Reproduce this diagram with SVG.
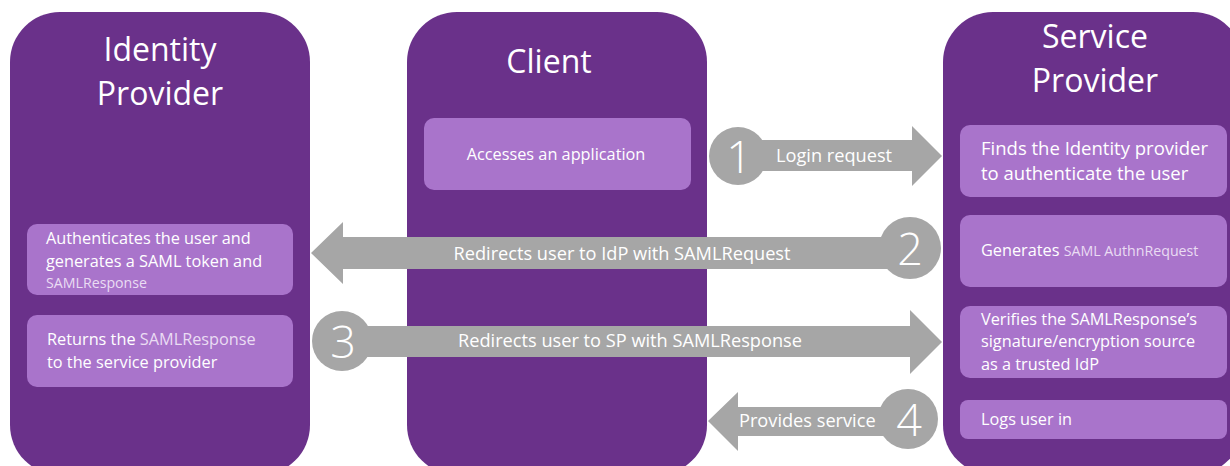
<svg xmlns="http://www.w3.org/2000/svg" width="1230" height="466" viewBox="0 0 1230 466">
  <style>
    .lane { fill: #6A318A; }
    .step { fill: #A974CB; }
    .flow { fill: #A6A6A6; }
    text { font-family: "Open Sans", "Liberation Sans", sans-serif; fill: #FFFFFF; }
    .title { font-size: 32px; text-anchor: middle; }
    .body { font-size: 16.3px; }
    .big { font-size: 18.5px; }
    .note { font-size: 14.2px; fill: #EADCF3; }
    .inline { fill: #EADCF3; }
    .label { font-size: 18.2px; }
    .num { font-size: 45px; font-weight: 300; text-anchor: middle; }
  </style>

  <rect width="1230" height="466" fill="#FFFFFF"/>

  <!-- Identity Provider lane -->
  <g id="identity-provider">
    <rect class="lane" x="10" y="12" width="300" height="463" rx="50"/>
    <text class="title" x="160" y="61">Identity</text>
    <text class="title" x="160" y="105">Provider</text>
    <rect class="step" x="27" y="224" width="266" height="71" rx="10"/>
    <text class="body" x="46" y="244">Authenticates the user and</text>
    <text class="body" x="46" y="267">generates a SAML token and</text>
    <text class="note" x="46" y="288">SAMLResponse</text>
    <rect class="step" x="27" y="315" width="266" height="72" rx="10"/>
    <text class="body" x="47" y="345">Returns the <tspan class="inline">SAMLResponse</tspan></text>
    <text class="body" x="47" y="368">to the service provider</text>
  </g>

  <!-- Client lane -->
  <g id="client">
    <rect class="lane" x="407" y="12" width="300" height="463" rx="50"/>
    <text class="title" x="549" y="73">Client</text>
    <rect class="step" x="424" y="118" width="267" height="72" rx="10"/>
    <text class="body" x="556" y="160" text-anchor="middle">Accesses an application</text>
  </g>

  <!-- Service Provider lane -->
  <g id="service-provider">
    <rect class="lane" x="943" y="12" width="300" height="463" rx="50"/>
    <text class="title" x="1095" y="48">Service</text>
    <text class="title" x="1095" y="92">Provider</text>
    <rect class="step" x="960" y="125" width="267" height="72" rx="10"/>
    <text class="big" x="981" y="155">Finds the Identity provider</text>
    <text class="big" x="981" y="180">to authenticate the user</text>
    <rect class="step" x="960" y="215" width="267" height="72" rx="10"/>
    <text class="body" x="981" y="256">Generates <tspan class="note">SAML AuthnRequest</tspan></text>
    <rect class="step" x="960" y="306" width="267" height="72" rx="10"/>
    <text class="body" x="981" y="325">Verifies the SAMLResponse’s</text>
    <text class="body" x="981" y="347">signature/encryption source</text>
    <text class="body" x="981" y="370">as a trusted IdP</text>
    <rect class="step" x="960" y="400" width="267" height="39" rx="8"/>
    <text class="body" x="981" y="425">Logs user in</text>
  </g>

  <!-- Numbered message arrows -->
  <g id="connectors">
    <g id="step-1">
      <circle class="flow" cx="738" cy="156" r="29"/>
      <polygon class="flow" points="738,140 912,140 912,126 942,156 912,186 912,171 738,171"/>
      <text class="num" x="739" y="173">1</text>
      <text class="label" x="776" y="162">Login request</text>
    </g>
    <g id="step-2">
      <circle class="flow" cx="910" cy="248" r="31"/>
      <polygon class="flow" points="910,237 343,237 343,222 311,253 343,284 343,269 910,269"/>
      <text class="num" x="910" y="265">2</text>
      <text class="label" x="622" y="260" text-anchor="middle">Redirects user to IdP with SAMLRequest</text>
    </g>
    <g id="step-3">
      <circle class="flow" cx="342" cy="341" r="30"/>
      <polygon class="flow" points="342,326 910,326 910,310 942,342 910,374 910,357 342,357"/>
      <text class="num" x="343" y="358">3</text>
      <text class="label" x="630" y="347" text-anchor="middle">Redirects user to SP with SAMLResponse</text>
    </g>
    <g id="step-4">
      <circle class="flow" cx="908" cy="419" r="30"/>
      <polygon class="flow" points="908,407 738,407 738,392 708,421 738,451 738,436 908,436"/>
      <text class="num" x="909" y="436">4</text>
      <text class="label" x="739" y="427">Provides service</text>
    </g>
  </g>
</svg>
